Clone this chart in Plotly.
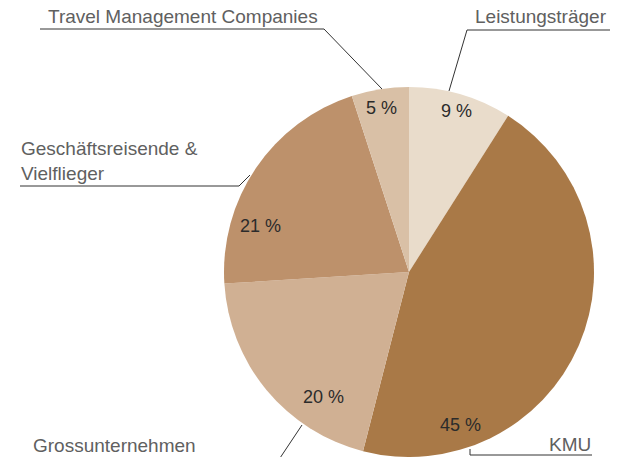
import plotly.graph_objects as go

W, H = 624, 457

# ---- data ----
labels = ["Leistungsträger", "KMU", "Grossunternehmen",
          "Geschäftsreisende &<br>Vielflieger", "Travel Management Companies"]
values = [9, 45, 20, 21, 5]
colors = ["#E9DCCB", "#A97947", "#D0B093", "#BD916B", "#D9C0A6"]

# ---- layout helpers (pixel -> paper) ----
def px(x):
    return x / W

def py(y):
    return 1 - y / H

cx, cy, R = 409, 272, 185

fig = go.Figure(go.Pie(
    labels=labels,
    values=values,
    marker=dict(colors=colors, line=dict(width=0)),
    sort=False,
    direction="clockwise",
    rotation=0,
    textinfo="none",
    hoverinfo="label+percent",
    showlegend=False,
    domain=dict(x=[px(cx - R), px(cx + R)], y=[py(cy + R), py(cy - R)]),
))

FONT = "Liberation Sans, Arial, sans-serif"

# percent label positions (pixel centres)
pct_pos = [(456, 111), (460, 425), (323, 397), (260, 226), (381, 108)]
annotations = []
for v, (x, y) in zip(values, pct_pos):
    annotations.append(dict(
        x=px(x), y=py(y), xref="paper", yref="paper",
        text=f"{v} %", showarrow=False, xanchor="center", yanchor="middle",
        font=dict(family=FONT, size=18, color="#2b2b2b"),
    ))

# category labels: (x, y, xanchor)
lab_pos = [(609, 16, "right"), (593, 444, "right"), (31, 445, "left"),
           (19, 161, "left"), (46, 16, "left")]
for lab, (x, y, xa) in zip(labels, lab_pos):
    annotations.append(dict(
        x=px(x), y=py(y), xref="paper", yref="paper",
        text=lab, showarrow=False, xanchor=xa, yanchor="middle", align="left",
        font=dict(family=FONT, size=19, color="#606060"),
    ))

# leader lines (polyline points in pixels)
leaders = [
    [(610, 30), (467, 30), (449, 91)],
    [(592, 455), (470, 455), (470, 449)],
    [(32, 458), (280, 458), (302, 425)],
    [(20, 186), (239, 186), (250, 175)],
    [(40, 29), (324, 29), (382, 89)],
]
shapes = []
for pts in leaders:
    path = "M " + " L ".join(f"{px(x)},{py(y)}" for x, y in pts)
    shapes.append(dict(type="path", path=path, xref="paper", yref="paper",
                       line=dict(color="#333333", width=1)))

fig.update_layout(
    width=W, height=H,
    margin=dict(l=0, r=0, t=0, b=0),
    paper_bgcolor="white", plot_bgcolor="white",
    annotations=annotations, shapes=shapes,
)

fig.write_html("out.html", config={"displayModeBar": False},
               post_script="document.body.style.margin='0';document.body.style.overflow='hidden';")
